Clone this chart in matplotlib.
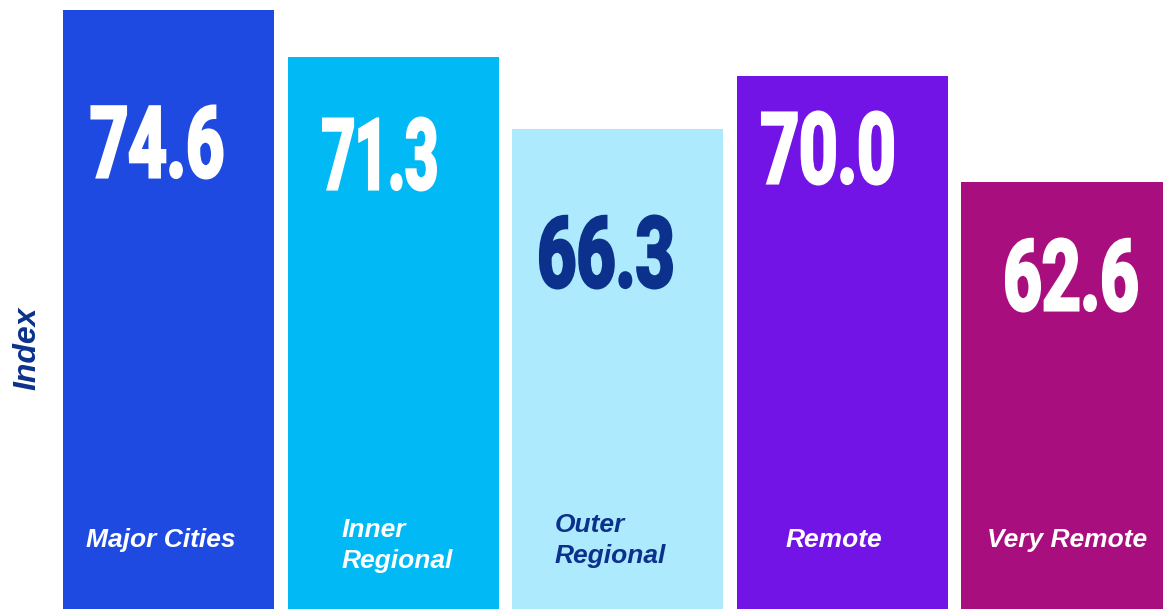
import numpy as np
import matplotlib
matplotlib.use("Agg")
import matplotlib.pyplot as plt
from matplotlib.textpath import TextPath
from matplotlib.patches import PathPatch
from matplotlib.font_manager import FontProperties
from matplotlib.transforms import Affine2D, IdentityTransform

# --- DATA ---
categories = ["Major Cities", "Inner\nRegional", "Outer\nRegional", "Remote", "Very Remote"]
values = [74.6, 71.3, 66.3, 70.0, 62.6]
value_labels = ["74.6", "71.3", "66.3", "70.0", "62.6"]

# --- STYLE / LAYOUT ---
bar_colors = ["#1F4AE2", "#00B9F5", "#AEEAFD", "#7314E6", "#A90E7E"]
navy = "#0B318C"
text_colors = ["white", "white", navy, "white", "white"]

W, H, DPI = 1163, 609, 100
step = 224.5      # px between bar centres
first_x = 168.5   # px of first bar centre
bar_w = 211       # px

# value label: (x offset from bar centre, top of digits, ink width) in px
value_pos = [(-11.5, 105, 133), (-13.5, 117, 115), (-11.5, 215, 134),
             (-14.5, 111, 133), (5, 238, 133)]
digit_h = 72
# category label: (left x, baseline of first line) in px
cat_pos = [(86, 547), (342, 537), (555, 532), (786, 547), (987, 547)]
line_gap = 31

fig = plt.figure(figsize=(W / DPI, H / DPI), dpi=DPI)
ax = fig.add_axes([0, 0, 1, 1])

x = np.arange(len(values))
ax.bar(x, values, width=bar_w / step, color=bar_colors, zorder=2)
ax.set_xlim(-first_x / step, (W - first_x) / step)
ax.set_ylim(32.7, 75.3)
ax.axis("off")

# --- condensed value labels (squeezed text paths) ---
num_font = FontProperties(family=["Roboto", "DejaVu Sans"], weight="bold")

for i, s in enumerate(value_labels):
    tp = TextPath((0, 0), s, size=1, prop=num_font)
    bb = tp.get_extents()
    dx, top_px, ink_w = value_pos[i]
    sy = digit_h / bb.height
    sx = (ink_w - 3) / bb.width
    cx = ax.transData.transform((x[i], 0))[0] + dx
    top = H - top_px - 1
    tr = Affine2D().translate(-(bb.x0 + bb.x1) / 2, -bb.y1).scale(sx, sy).translate(cx, top)
    patch = PathPatch(tr.transform_path(tp), facecolor=text_colors[i], edgecolor=text_colors[i],
                      linewidth=2.2, joinstyle="miter", transform=IdentityTransform(), zorder=5)
    fig.add_artist(patch)

# --- category labels ---
for i, name in enumerate(categories):
    lx, base = cat_pos[i]
    for j, line in enumerate(name.split("\n")):
        fig.text(lx / W, 1 - (base + j * line_gap) / H, line, ha="left", va="baseline",
                 fontsize=19, fontweight="bold", fontstyle="italic",
                 family=["Liberation Sans", "DejaVu Sans"], color=text_colors[i])

fig.text(27 / W, 1 - 348 / H, "Index", rotation=90, ha="center", va="center",
         fontsize=23, fontweight="bold", fontstyle="italic",
         family=["Liberation Sans", "DejaVu Sans"], color=navy)

fig.savefig("out.png", dpi=DPI)
